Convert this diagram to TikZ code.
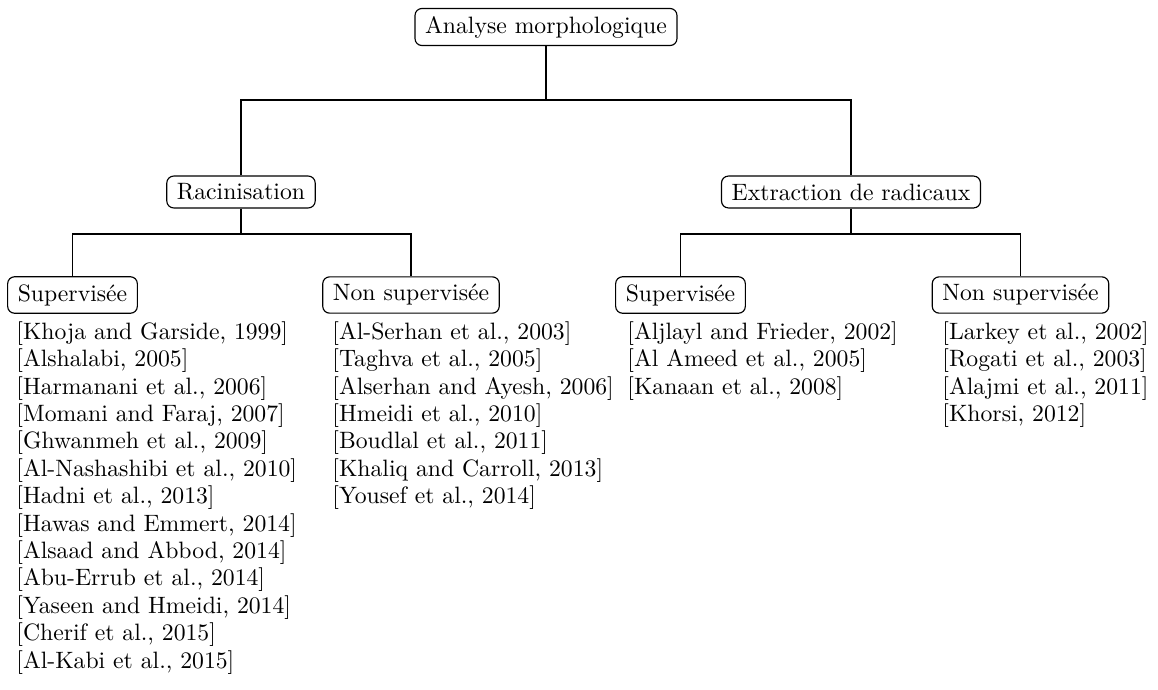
\documentclass[tikz,border=0pt]{standalone}
\usepackage{fontspec}
\begin{document}
\begin{tikzpicture}[x=0.4348pt,y=-0.4348pt,
  catbox/.style={draw,rounded corners=3pt,line width=0.5pt,inner xsep=4.4pt,inner ysep=3.3pt,font=\fontsize{10.3}{12}\selectfont},
  reflist/.style={anchor=north west,inner sep=0pt,align=left,font=\fontsize{10.3}{11.92}\selectfont},
  branch/.style={line width=0.8pt}]
\useasboundingbox (0,0) rectangle (1158,689);

% tree nodes
\node[catbox] (root) at (546,27) {Analyse morphologique};
\node[catbox] (rac)  at (241,192) {Racinisation};
\node[catbox] (ext)  at (851,192) {Extraction de radicaux};
\node[catbox] (supA) at (72.5,295) {Supervisée};
\node[catbox] (nsA)  at (411,295) {Non supervisée};
\node[catbox] (supB) at (680.5,295) {Supervisée};
\node[catbox] (nsB)  at (1020.5,295) {Non supervisée};

% junction points of the branches
\coordinate (j0) at (546,100);
\coordinate (j1) at (241,234);
\coordinate (j2) at (851,234);

\draw[branch] (root.south) -- (j0);
\draw[branch] (rac.north) |- (j0) -| (ext.north);
\draw[branch] (rac.south) -- (j1);
\draw[branch] (supA.north) |- (j1) -| (nsA.north);
\draw[branch] (ext.south) -- (j2);
\draw[branch] (supB.north) |- (j2) -| (nsB.north);

% reference lists
\node[reflist] (lstA) at (16,321) {{[}Khoja and Garside, 1999]\\
{[}Alshalabi, 2005]\\
{[}Harmanani et al., 2006]\\
{[}Momani and Faraj, 2007]\\
{[}Ghwanmeh et al., 2009]\\
{[}Al-Nashashibi et al., 2010]\\
{[}Hadni et al., 2013]\\
{[}Hawas and Emmert, 2014]\\
{[}Alsaad and Abbod, 2014]\\
{[}Abu-Errub et al., 2014]\\
{[}Yaseen and Hmeidi, 2014]\\
{[}Cherif et al., 2015]\\
{[}Al-Kabi et al., 2015]};
\node[reflist] (lstB) at (332,321) {{[}Al-Serhan et al., 2003]\\
{[}Taghva et al., 2005]\\
{[}Alserhan and Ayesh, 2006]\\
{[}Hmeidi et al., 2010]\\
{[}Boudlal et al., 2011]\\
{[}Khaliq and Carroll, 2013]\\
{[}Yousef et al., 2014]};
\node[reflist] (lstC) at (627,321) {{[}Aljlayl and Frieder, 2002]\\
{[}Al Ameed et al., 2005]\\
{[}Kanaan et al., 2008]};
\node[reflist] (lstD) at (942,321) {{[}Larkey et al., 2002]\\
{[}Rogati et al., 2003]\\
{[}Alajmi et al., 2011]\\
{[}Khorsi, 2012]};
\end{tikzpicture}
\end{document}
